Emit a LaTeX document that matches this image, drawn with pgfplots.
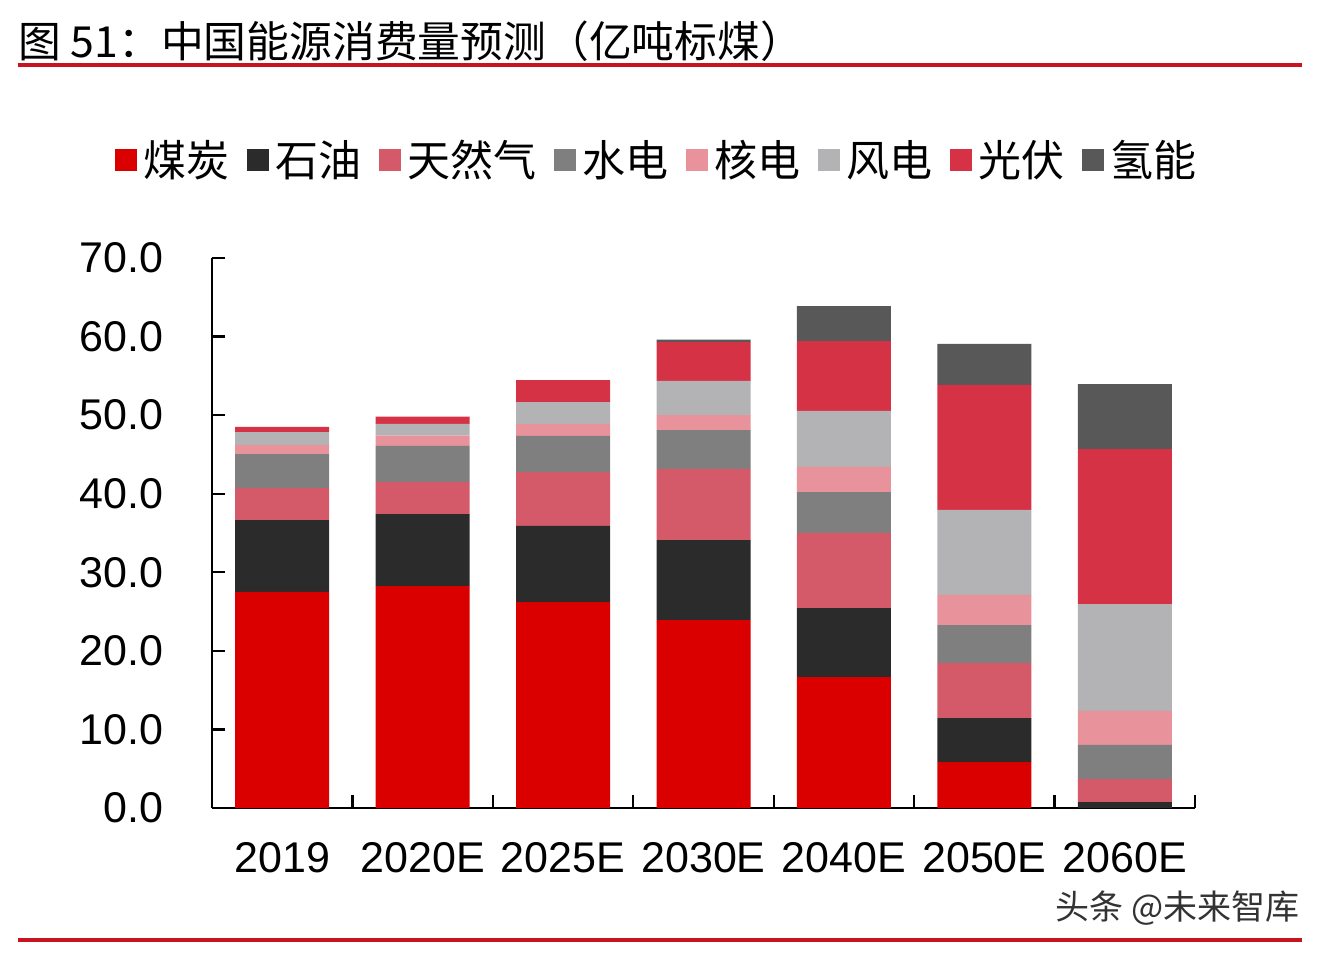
\documentclass[border=0pt]{standalone}
\usepackage{fontspec}
\setmainfont{Liberation Sans}
\newfontfamily\cjk{Noto Sans CJK SC}
\usepackage{pgfplots}
\pgfplotsset{compat=1.18}
\usepackage{pgfplotstable}

\definecolor{cCoal}{RGB}{218,0,0}
\definecolor{cOil}{RGB}{43,43,43}
\definecolor{cGas}{RGB}{212,90,105}
\definecolor{cHydro}{RGB}{127,127,127}
\definecolor{cNuclear}{RGB}{232,146,155}
\definecolor{cWind}{RGB}{179,178,180}
\definecolor{cSolar}{RGB}{214,50,70}
\definecolor{cHydrogen}{RGB}{88,88,88}
\definecolor{ruleRed}{RGB}{200,20,30}

% China energy consumption forecast, 100 million tonnes of standard coal
\pgfplotstableread{
x coal  oil   gas   hydro nuclear wind  solar hydrogen
0 27.50 9.15  4.05  4.35  1.15    1.65  0.65  0.00
1 28.25 9.15  4.10  4.60  1.30    1.50  0.90  0.00
2 26.20 9.70  6.85  4.60  1.50    2.80  2.80  0.00
3 23.90 10.20 9.05  4.95  1.90    4.35  4.95  0.30
4 16.67 8.78  9.55  5.20  3.20    7.13  8.90  4.45
5 5.85  5.60  7.00  4.84  3.82    10.82 15.91 5.22
6 0.00  0.76  2.93  4.33  4.33    13.61 19.73 8.27
}\energy

\begin{document}
\begin{tikzpicture}[x=1pt,y=1pt]
\useasboundingbox (0,0) rectangle (663,476);

% title and rules
\node[anchor=west, inner sep=0pt, font=\cjk\fontsize{21.4}{24}\selectfont] at (9,455.5)
  {图 51：中国能源消费量预测（亿吨标煤）};
\draw[ruleRed, line width=2pt] (9,443.5) -- (651,443.5);
\draw[ruleRed, line width=2pt] (9,6) -- (651,6);
\node[anchor=east, inner sep=0pt, text=black!80, font=\cjk\fontsize{17}{20}\selectfont] at (650,22)
  {头条 @未来智库};

\begin{axis}[
  at={(106pt,72pt)}, anchor=south west,
  scale only axis, width=491.5pt, height=275pt,
  ybar stacked, bar width=47pt,
  xmin=-0.5, xmax=6.5, ymin=0, ymax=70,
  axis x line*=bottom, axis y line*=left,
  axis line style={line width=1.1pt, black},
  tick align=inside,
  tick style={line width=1.1pt, black},
  major tick length=6.5pt, minor tick length=6.5pt,
  xtick={0,...,6},
  xticklabels={2019,2020E,2025E,2030E,2040E,2050E,2060E},
  minor xtick={-0.5,0.5,...,6.5},
  major x tick style={draw=none},
  ytick={0,10,...,70},
  /pgf/number format/assume math mode=true,
  y tick label style={/pgf/number format/fixed, /pgf/number format/fixed zerofill,
    /pgf/number format/precision=1},
  ticklabel style={font=\fontsize{21.5}{24}\selectfont},
  yticklabel style={xshift=-21pt},
  xticklabel style={yshift=-13.5pt},
  legend columns=8,
  legend style={draw=none, fill=none, at={(0.453,1.178)}, anchor=center,
    font=\cjk\fontsize{21.5}{24}\selectfont,
    nodes={inner xsep=1.5pt},
    /tikz/every odd column/.append style={column sep=2pt},
    /tikz/every even column/.append style={column sep=7pt}},
  legend image code/.code={\fill[#1] (0pt,-5.5pt) rectangle (11pt,5.5pt);},
  every axis plot/.append style={draw=none},
]
\addplot[fill=cCoal] table[x=x, y=coal] {\energy};
\addplot[fill=cOil] table[x=x, y=oil] {\energy};
\addplot[fill=cGas] table[x=x, y=gas] {\energy};
\addplot[fill=cHydro] table[x=x, y=hydro] {\energy};
\addplot[fill=cNuclear] table[x=x, y=nuclear] {\energy};
\addplot[fill=cWind] table[x=x, y=wind] {\energy};
\addplot[fill=cSolar] table[x=x, y=solar] {\energy};
\addplot[fill=cHydrogen] table[x=x, y=hydrogen] {\energy};
\legend{煤炭,石油,天然气,水电,核电,风电,光伏,氢能}
\end{axis}
\end{tikzpicture}
\end{document}
